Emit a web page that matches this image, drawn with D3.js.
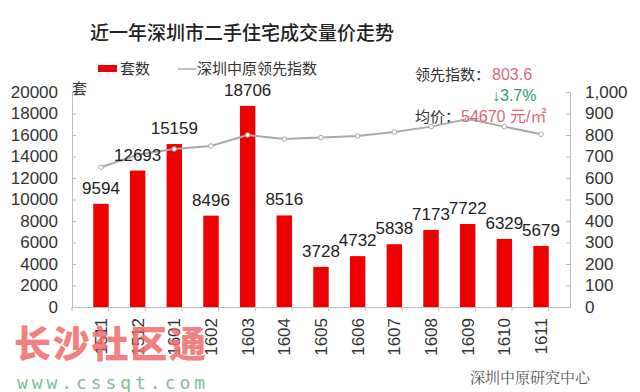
<!DOCTYPE html>
<html>
<head>
<meta charset="utf-8">
<script src="https://cdn.jsdelivr.net/npm/d3@7"></script>
<style>
  body { margin: 0; background: #fff; }
  svg { display: block; font-family: "Liberation Sans", "Noto Sans CJK SC", sans-serif; }
</style>
</head>
<body>
<div id="content"></div>
<script>
// months (yymm)
let months = ['1511','1512','1601','1602','1603','1604','1605','1606','1607','1608','1609','1610','1611'];
// 套数 - deals per month
let deals = [9594, 12693, 15159, 8496, 18706, 8516, 3728, 4732, 5838, 7173, 7722, 6329, 5679];
// 深圳中原领先指数
let leadIndex = [650, 708, 735, 749, 800, 781, 788, 795, 814, 839, 874, 839, 803.6];
let leftTicks = [0,2000,4000,6000,8000,10000,12000,14000,16000,18000,20000];
let rightTicks = [0,100,200,300,400,500,600,700,800,900,1000];

let width = 640, height = 392;
let padL = 72, padR = 570, padT = 92, padB = 307;
let cjk = '"Noto Sans CJK SC", sans-serif';

let svg = d3.select('#content').append('svg').attr('width', width).attr('height', height);

let x = d3.scaleBand().domain(months).range([padL, padR]).padding(0.58);
let yL = d3.scaleLinear().domain([0, 20000]).range([padB, padT]);
let yR = d3.scaleLinear().domain([0, 1000]).range([padB, padT]);

// title
svg.append('text').text('近一年深圳市二手住宅成交量价走势')
  .attr('x', 242).attr('y', 40).attr('text-anchor', 'middle')
  .style('font-family', cjk).style('font-size', '19px').style('font-weight', 500).attr('fill', '#222');

// legend
svg.append('rect').attr('x', 98).attr('y', 65).attr('width', 19).attr('height', 7).attr('fill', '#e8000b');
svg.append('text').text('套数').attr('x', 120).attr('y', 74)
  .style('font-family', cjk).style('font-size', '15px').attr('fill', '#333');
svg.append('line').attr('x1', 178).attr('x2', 196).attr('y1', 69).attr('y2', 69).attr('stroke', '#aaa').attr('stroke-width', 1.5);
svg.append('text').text('深圳中原领先指数').attr('x', 197).attr('y', 74)
  .style('font-family', cjk).style('font-size', '15px').attr('fill', '#333');

// unit
svg.append('text').text('套').attr('x', 72).attr('y', 94)
  .style('font-family', cjk).style('font-size', '15px').attr('fill', '#333');

// axes
let axisL = svg.append('g').attr('transform', `translate(${padL},0)`)
  .call(d3.axisLeft(yL).tickValues(leftTicks).tickSizeInner(-4).tickSizeOuter(0).tickPadding(14).tickFormat(d3.format('d')));
let axisR = svg.append('g').attr('transform', `translate(${padR},0)`)
  .call(d3.axisRight(yR).tickValues(rightTicks).tickSizeInner(-4).tickSizeOuter(0).tickPadding(14).tickFormat(d3.format(',')));
[axisL, axisR].forEach(g => {
  g.select('.domain').attr('stroke', '#bbb');
  g.selectAll('.tick line').attr('stroke', '#bbb');
  g.selectAll('.tick text').attr('fill', '#333').style('font-size', '17px');
});
axisR.selectAll('.tick text').attr('x', 15);

// x axis baseline and ticks between categories
let axisX = svg.append('g').attr('transform', `translate(0,${padB})`)
  .call(d3.axisBottom(x).tickSize(0).tickPadding(10));
axisX.select('.domain').attr('stroke', '#bbb');
axisX.selectAll('.tick text')
  .attr('transform', 'rotate(-90)').attr('text-anchor', 'end')
  .attr('x', -11).attr('y', 0).attr('dy', '0.35em')
  .attr('fill', '#333').style('font-size', '17px');
let step = x.step();
svg.selectAll('.xsep').data(d3.range(months.length + 1)).enter().append('line')
  .attr('x1', i => padL + i * step).attr('x2', i => padL + i * step)
  .attr('y1', padB).attr('y2', padB + 4).attr('stroke', '#bbb');

// bars
svg.selectAll('.bar').data(deals).enter().append('rect')
  .attr('x', (d, i) => x(months[i])).attr('width', x.bandwidth())
  .attr('y', d => yL(d)).attr('height', d => padB - yL(d))
  .attr('fill', '#ee0000');

// line
let line = d3.line().x((d, i) => x(months[i]) + x.bandwidth() / 2).y(d => yR(d));
svg.append('path').datum(leadIndex).attr('d', line)
  .attr('fill', 'none').attr('stroke', '#aaa').attr('stroke-width', 2);
svg.selectAll('.pt').data(leadIndex).enter().append('circle')
  .attr('cx', (d, i) => x(months[i]) + x.bandwidth() / 2).attr('cy', d => yR(d)).attr('r', 2.3)
  .attr('fill', '#fff').attr('stroke', '#aaa').attr('stroke-width', 1);

// bar labels
svg.selectAll('.lbl').data(deals).enter().append('text')
  .text(d => d)
  .attr('x', (d, i) => x(months[i]) + x.bandwidth() / 2).attr('y', d => yL(d) - 10)
  .attr('text-anchor', 'middle').attr('fill', '#222').style('font-size', '17px');

// annotation
let ann = svg.append('g').style('font-size', '15px');
ann.append('text').attr('x', 415).attr('y', 80).style('font-family', cjk).attr('fill', '#333').text('领先指数：');
ann.append('text').attr('x', 492).attr('y', 80).attr('fill', '#d9697a').style('font-size', '16px').text(leadIndex[leadIndex.length - 1]);
ann.append('text').attr('x', 492).attr('y', 101).attr('fill', '#2e9e6e').style('font-size', '16px').text('↓3.7%');
ann.append('text').attr('x', 415).attr('y', 122).style('font-family', cjk).attr('fill', '#333').text('均价：');
ann.append('text').attr('x', 461).attr('y', 122).attr('fill', '#d9697a').style('font-size', '16px').text('54670 元/㎡');

// source
svg.append('text').text('深圳中原研究中心').attr('x', 470).attr('y', 383)
  .style('font-family', '"Noto Serif CJK SC", "Noto Sans CJK SC", serif').style('font-size', '15px').attr('fill', '#555');

// watermark
svg.append('text').text('长沙社区通').attr('x', 14).attr('y', 358)
  .style('font-family', cjk).style('font-size', '37px').style('font-weight', 900)
  .attr('fill', '#f26a6a').attr('opacity', 0.85).attr('textLength', 192);
svg.append('text').text('www.cssqt.com').attr('x', 17).attr('y', 389)
  .style('font-family', '"DejaVu Sans Mono", monospace').style('font-size', '18px')
  .attr('fill', '#7cc094').attr('textLength', 188);
</script>
</body>
</html>
